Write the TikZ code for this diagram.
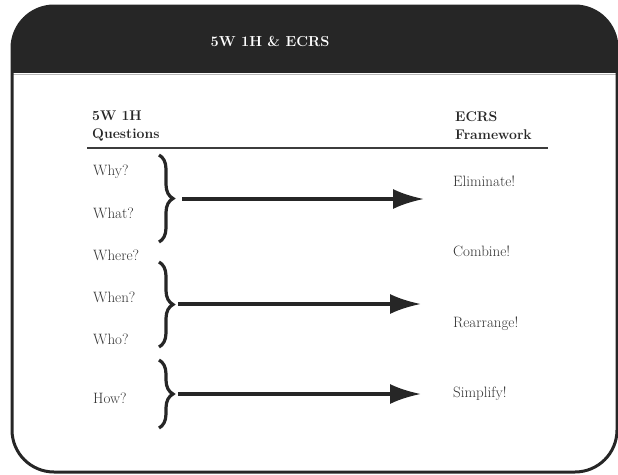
\documentclass[tikz,border=0pt]{standalone}
\usetikzlibrary{arrows.meta,decorations.pathreplacing}
\definecolor{band}{HTML}{262626}
\definecolor{ink}{HTML}{333333}
\begin{document}
\begin{tikzpicture}[x=1pt,y=-1pt,
  every node/.style={inner sep=0pt, font=\fontsize{15}{18}\selectfont},
  label/.style={anchor=base west, text=ink},
  heading/.style={anchor=base west, align=left, text=band,
    font=\fontsize{14}{18}\selectfont\bfseries},
  bracegroup/.style={decorate, decoration={brace, amplitude=14pt},
    line width=3.2pt, draw=band},
  flow/.style={line width=3.5pt, draw=band, -{Latex[length=31pt,width=20pt]}},
  rule/.style={line width=2.5pt, draw=band!90}]
\useasboundingbox (0,0) rectangle (618,474);

% card with dark title band
\begin{scope}
  \clip[rounded corners=42pt] (12,6) rectangle (617,472);
  \fill[band] (0,0) rectangle (618,73);
  \draw[gray!55, line width=1pt] (0,74.5) -- (618,74.5);
\end{scope}
\draw[band, line width=3pt, rounded corners=42pt] (12,6) rectangle (617,472);

\node[anchor=base, text=white, font=\fontsize{14.5}{18}\selectfont\bfseries]
  (title) at (270,46) {5W 1H \& ECRS};

% column headings (anchored on the baseline of their second line)
\node[heading] (qhead) at (92,138) {5W 1H\\Questions};
\node[heading] (ehead) at (455,139) {ECRS\\Framework};
\coordinate (ruleL) at (87,148);
\coordinate (ruleR) at (548,148);
\draw[rule] (ruleL) -- (ruleR);

% questions
\node[label] (why)   at (93,175) {Why?};
\node[label] (what)  at (93,218) {What?};
\node[label] (where) at (93,260) {Where?};
\node[label] (when)  at (93,302) {When?};
\node[label] (who)   at (93,344) {Who?};
\node[label] (how)   at (93,403) {How?};

% ECRS actions
\node[label] (elim)  at (453,186) {Eliminate!};
\node[label] (comb)  at (453,256) {Combine!};
\node[label] (rearr) at (453,327) {Rearrange!};
\node[label] (simp)  at (453,397) {Simplify!};

% braces grouping the questions
\coordinate (b1top) at (159,155);
\coordinate (b1bot) at (159,242);
\coordinate (b2top) at (159,262);
\coordinate (b2bot) at (159,347);
\coordinate (b3top) at (159,360);
\coordinate (b3bot) at (159,428);
\draw[bracegroup] (b1top) -- (b1bot);
\draw[bracegroup] (b2top) -- (b2bot);
\draw[bracegroup] (b3top) -- (b3bot);

% arrows from each group to its action
\coordinate (a1) at (182,199);
\coordinate (t1) at (424,199);
\coordinate (a2) at (178,304);
\coordinate (t2) at (421,304);
\coordinate (a3) at (178,394);
\coordinate (t3) at (421,394);
\draw[flow] (a1) -- (t1);
\draw[flow] (a2) -- (t2);
\draw[flow] (a3) -- (t3);
\end{tikzpicture}
\end{document}
